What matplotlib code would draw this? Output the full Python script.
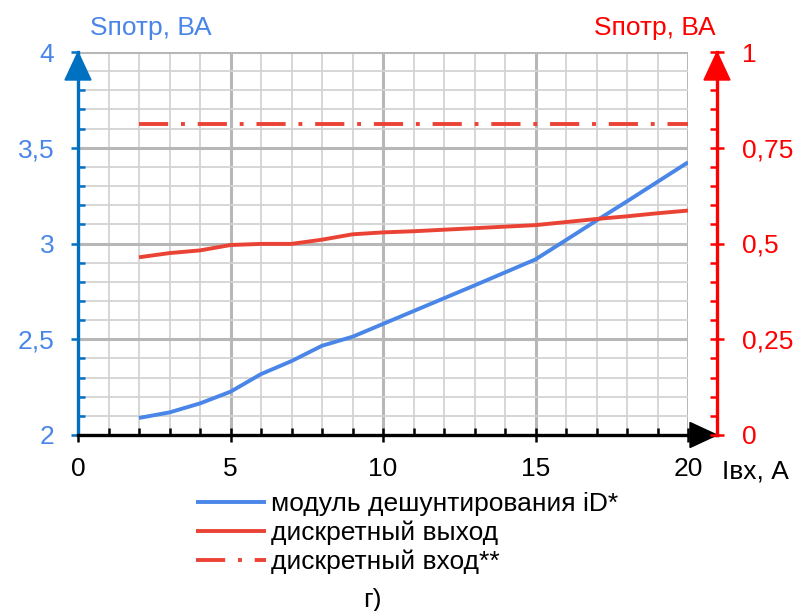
import matplotlib
matplotlib.use('Agg')
import matplotlib.pyplot as plt
from matplotlib.patches import Polygon
from matplotlib.lines import Line2D
import numpy as np

plt.rcParams['font.family'] = ['Liberation Sans', 'DejaVu Sans']

# data
i_in = [2, 3, 4, 5, 6, 7, 8, 9, 10, 11, 12, 13, 14, 15, 16, 17, 18, 19, 20]
s_module = [2.089, 2.118, 2.165, 2.226, 2.318, 2.386, 2.466, 2.513, 2.580, 2.647,
            2.714, 2.781, 2.849, 2.917, 3.018, 3.120, 3.220, 3.322, 3.424]
s_out = [0.464, 0.475, 0.482, 0.496, 0.499, 0.499, 0.510, 0.524, 0.529, 0.532,
         0.536, 0.540, 0.544, 0.548, 0.556, 0.564, 0.571, 0.579, 0.586]
i_in_dig = [2, 20]
s_in_dig = [0.811, 0.811]

x_ticks = [0, 5, 10, 15, 20]
left_ticks = [2, 2.5, 3, 3.5, 4]
left_labels = ['2', '2,5', '3', '3,5', '4']
right_ticks = [0, 0.25, 0.5, 0.75, 1]
right_labels = ['0', '0,25', '0,5', '0,75', '1']
legend_labels = ['модуль дешунтирования iD*', 'дискретный выход', 'дискретный вход**']

blue = '#4a86e8'
axis_blue = '#0070c0'
red = '#ea4335'
axis_red = '#ff0000'
fs = 19

W, H = 796, 611
fig = plt.figure(figsize=(W / 100, H / 100), dpi=100)
x0, x1, y0, y1 = 78, 688, 52, 435
ax = fig.add_axes([x0 / W, 1 - y1 / H, (x1 - x0) / W, (y1 - y0) / H])
ax2 = ax.twinx()

ax.set_xlim(0, 20)
ax.set_ylim(2, 4)
ax2.set_ylim(0, 1)

# grid
ax.set_xticks(x_ticks)
ax.set_xticks(np.arange(0, 21, 1), minor=True)
ax.set_yticks(left_ticks, left_labels)
ax.set_yticks(np.arange(2, 4.01, 0.1), minor=True)
ax.grid(which='minor', color='#d3d3d3', lw=1.3)
ax.grid(which='major', color='#b7b7b7', lw=2.2)
ax.set_axisbelow(True)

ax2.set_yticks(right_ticks, right_labels)
ax2.set_yticks(np.arange(0, 1.001, 0.05), minor=True)

# lines
l1, = ax.plot(i_in, s_module, color=blue, lw=2.8, solid_capstyle='butt')
l2, = ax2.plot(i_in, s_out, color=red, lw=2.8, solid_capstyle='butt')
l3, = ax2.plot(i_in_dig, s_in_dig, color=red, lw=2.8, dashes=(7.5, 3.3, 1, 3.3))

# spines
for s in ['top', 'right', 'bottom']:
    ax.spines[s].set_visible(False)
for s in ['top', 'left', 'bottom']:
    ax2.spines[s].set_visible(False)
ax.spines['left'].set_color(axis_blue)
ax.spines['left'].set_linewidth(2.4)
xr = (717 - x0) / (x1 - x0)
ax2.spines['right'].set_position(('axes', xr))
ax2.spines['right'].set_color(axis_red)
ax2.spines['right'].set_linewidth(2.4)

ax.add_line(Line2D([0, xr], [0, 0], transform=ax.transAxes, color='black',
                   lw=2.4, clip_on=False, zorder=5))

# ticks
ax.tick_params(axis='x', which='major', direction='inout', length=10, width=1.8,
               color='black', labelsize=fs, pad=11)
ax.tick_params(axis='x', which='minor', direction='in', length=5, width=1.8, color='black')
ax.tick_params(axis='y', which='major', direction='out', length=5, width=1.8,
               color=axis_blue, labelcolor=blue, labelsize=fs, pad=12)
ax.tick_params(axis='y', which='minor', direction='in', length=5, width=1.8, color=axis_blue)
ax2.tick_params(axis='y', which='major', direction='inout', length=10, width=1.8,
                color=axis_red, labelcolor=axis_red, labelsize=fs, pad=13)
ax2.tick_params(axis='y', which='minor', direction='in', length=5, width=1.8, color=axis_red)

# arrow heads
ah = 28 / (y1 - y0)
aw = 13 / (x1 - x0)
ax.add_patch(Polygon([[0, 1], [-aw, 1 - ah], [aw, 1 - ah]], closed=True,
                     transform=ax.transAxes, color=axis_blue, clip_on=False, zorder=6))
ax.add_patch(Polygon([[xr, 1], [xr - aw, 1 - ah], [xr + aw, 1 - ah]], closed=True,
                     transform=ax.transAxes, color=axis_red, clip_on=False, zorder=6))
bx = (690 - x0) / (x1 - x0)
bh = 12.5 / (y1 - y0)
ax.add_patch(Polygon([[xr, 0], [bx, bh], [bx, -bh]], closed=True,
                     transform=ax.transAxes, color='black', clip_on=False, zorder=6))

# axis titles
fig.text(90 / W, 1 - 28 / H, 'Sпотр, ВА', color=blue, fontsize=fs, ha='left', va='center')
fig.text(716 / W, 1 - 28 / H, 'Sпотр, ВА', color=axis_red, fontsize=fs, ha='right', va='center')
fig.text(722 / W, 1 - 471 / H, 'Iвх, А', color='black', fontsize=fs, ha='left', va='center')
fig.text(372 / W, 1 - 600 / H, 'г)', color='black', fontsize=fs, ha='center', va='center')

fig.legend([l1, l2, l3], legend_labels, loc='upper left',
           bbox_to_anchor=(196 / W, 1 - 492 / H), frameon=False, fontsize=fs,
           handlelength=2.65, handletextpad=0.19, labelspacing=0.17, borderpad=0,
           borderaxespad=0)

fig.savefig('out.png', dpi=100)
